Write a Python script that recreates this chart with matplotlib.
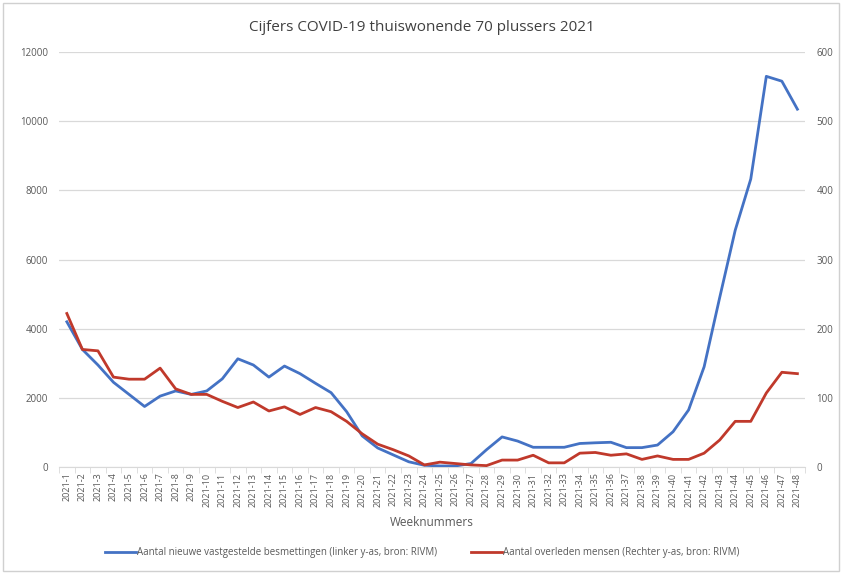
import numpy as np
import matplotlib.pyplot as plt
from matplotlib.patches import Rectangle

# ============================================================
# DATA
# ============================================================
weken = [f"2021-{i}" for i in range(1, 49)]

besmettingen = [4200, 3400, 2950, 2450, 2100, 1750, 2050, 2200, 2100, 2200,
                2550, 3130, 2950, 2600, 2920, 2700, 2420, 2150, 1600, 900,
                550, 350, 150, 50, 30, 30, 100, 500, 870, 750,
                570, 570, 570, 680, 700, 715, 560, 560, 635, 1020,
                1650, 2900, 4900, 6850, 8330, 11300, 11160, 10350]

overleden = [222, 170, 168, 130, 127, 127, 143, 113, 105, 105,
             95, 86, 94, 81, 87, 76, 86, 80, 66, 48,
             33, 25, 16, 3, 7, 5, 3, 2, 10, 10,
             17, 6, 6, 20, 21, 17, 19, 11, 16, 11,
             11, 20, 39, 66, 66, 107, 137, 135]

titel = "Cijfers COVID-19 thuiswonende 70 plussers 2021"
label_blauw = "Aantal nieuwe vastgestelde besmettingen (linker y-as, bron: RIVM)"
label_rood = "Aantal overleden mensen (Rechter y-as, bron: RIVM)"

# ============================================================
# PLOT
# ============================================================
plt.rcParams['font.family'] = ['Open Sans', 'DejaVu Sans']
tekst_kleur = '#595959'
blauw = '#4472C4'
rood = '#C0392B'

fig = plt.figure(figsize=(8.44, 5.73), dpi=100)
ax = fig.add_axes([0.070, 0.185, 0.884, 0.724])
ax2 = ax.twinx()

x = np.arange(len(weken))
l1, = ax.plot(x, besmettingen, color=blauw, lw=2.0, label=label_blauw, zorder=3)
l2, = ax2.plot(x, overleden, color=rood, lw=2.0, label=label_rood, zorder=3)

ax.set_xlim(-0.5, len(weken) - 0.5)
ax.set_ylim(0, 12000)
ax2.set_ylim(0, 600)
ax.set_yticks(np.arange(0, 12001, 2000))
ax2.set_yticks(np.arange(0, 601, 100))
ax.grid(axis='y', color='#d9d9d9', lw=0.9)
ax.set_axisbelow(True)

for a in (ax, ax2):
    for s in a.spines.values():
        s.set_visible(False)
    a.tick_params(axis='y', length=0, labelsize=7, labelcolor=tekst_kleur, pad=8)
ax.spines['bottom'].set_visible(True)
ax.spines['bottom'].set_color('#d9d9d9')

ax.set_xticks(x)
ax.set_xticklabels(weken, rotation=90, fontsize=6.5, color=tekst_kleur)
ax.set_xticks(np.arange(-0.5, len(weken), 1), minor=True)
ax.tick_params(axis='x', which='major', length=0, pad=4)
ax.tick_params(axis='x', which='minor', length=4, color='#d9d9d9')

fig.text(0.512, 0.089, "Weeknummers", ha='center', va='center', fontsize=8.5, color=tekst_kleur)
fig.text(0.500, 0.952, titel, ha='center', va='center', fontsize=11, color='#404040')

fig.legend(handles=[l1, l2], loc='center', bbox_to_anchor=(0.50, 0.035), ncol=2,
           frameon=False, fontsize=7, labelcolor=tekst_kleur, handlelength=3.2,
           handletextpad=0.1, columnspacing=3.5)

# rand rond de grafiek
fig.patches.append(Rectangle((0.004, 0.004), 0.99, 0.99, transform=fig.transFigure,
                             fill=False, edgecolor='#d0d0d0', lw=1.0))

fig.savefig("out.png", dpi=100, facecolor='white')
